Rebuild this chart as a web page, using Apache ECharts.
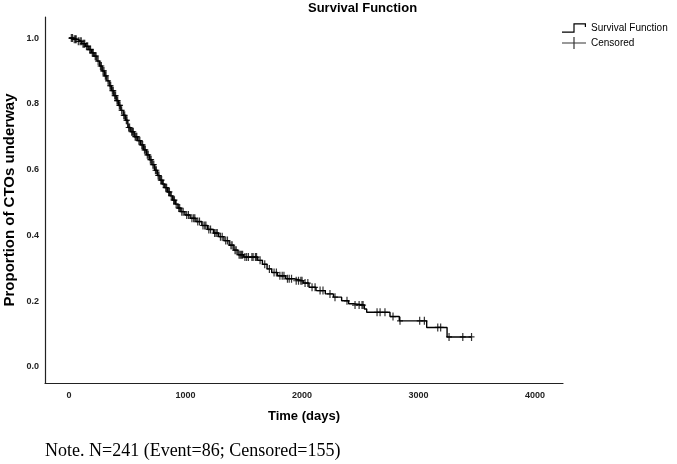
<!DOCTYPE html>
<html>
<head>
<meta charset="utf-8">
<title>Survival Function</title>
<script src="https://cdn.jsdelivr.net/npm/echarts@6/dist/echarts.min.js"></script>
<style>
  html, body { margin: 0; padding: 0; background: #fff; }
  #chart { width: 677px; height: 464px; }
</style>
</head>
<body>
<div id="chart"></div>
<script>
// Kaplan-Meier: event times (days) and the survival right after each event
const eventTimes = [40, 75, 110, 140, 170, 195, 215, 240, 262, 285, 305, 325, 345, 365, 385, 405, 425, 445, 465, 485,
  505, 530, 560, 590, 615, 640, 665, 690, 712, 735, 758, 780, 800, 822, 845, 868, 890, 912, 935, 960,
  995, 1040, 1090, 1140, 1190, 1240, 1285, 1330, 1375, 1415, 1450, 1500, 1620, 1660, 1700, 1740, 1790,
  1860, 1930, 2010, 2060, 2120, 2200, 2270, 2340, 2400, 2440, 2535, 2555, 2755, 2835, 3070, 3245]
const survival = [0.996, 0.99, 0.983, 0.975, 0.965, 0.955, 0.945, 0.93, 0.915, 0.9, 0.885, 0.87, 0.855, 0.84, 0.825, 0.81, 0.795, 0.78, 0.765, 0.75,
  0.728, 0.715, 0.7, 0.688, 0.675, 0.66, 0.645, 0.63, 0.615, 0.598, 0.582, 0.568, 0.556, 0.545, 0.532, 0.52, 0.507, 0.495, 0.483, 0.472,
  0.462, 0.452, 0.442, 0.43, 0.418, 0.407, 0.396, 0.384, 0.37, 0.355, 0.341, 0.334, 0.324, 0.312, 0.298, 0.287, 0.277,
  0.268, 0.262, 0.255, 0.242, 0.232, 0.222, 0.212, 0.201, 0.192, 0.188, 0.176, 0.166, 0.153, 0.14, 0.12, 0.091]
// censored cases (days)
const censorTimes = [20, 30, 45, 55, 62, 80, 95, 105, 120, 128, 135, 150, 160, 178, 185, 200, 208, 225, 232, 250,
  270, 278, 292, 300, 312, 318, 335, 352, 358, 372, 380, 392, 400, 412, 418, 432, 438, 452, 470, 478, 492, 498,
  512, 520, 538, 545, 552, 568, 575, 582, 600, 608, 625, 632, 648, 655, 672, 680, 698, 705, 720, 728, 742, 750,
  765, 772, 788, 795, 810, 830, 838, 855, 862, 878, 898, 905, 920, 942, 950, 968, 980, 1010,
  1025, 1055, 1070, 1080, 1105, 1120, 1150, 1165, 1175, 1200, 1215, 1250, 1262, 1272, 1300, 1315, 1345, 1360,
  1390, 1400, 1425, 1435, 1460, 1470, 1480, 1490, 1510, 1525, 1540, 1570, 1580, 1600,
  1610, 1640, 1680, 1720, 1760, 1780, 1810, 1830, 1845, 1875, 1890, 1910, 1950, 1970, 1990,
  2000, 2026, 2050, 2086, 2112, 2155, 2180, 2240, 2283, 2386, 2455, 2490, 2515, 2524, 2644, 2670, 2712,
  2781, 2841, 3010, 3050, 3165, 3190, 3262, 3380, 3455]
const xTicks = [0, 1000, 2000, 3000, 4000]
const yTicks = [0, 0.2, 0.4, 0.6, 0.8, 1.0]

const font = 'Liberation Sans, Arial, sans-serif'
const stepIcon = 'path://M0,0H0.01V0.01H0Z M0,9.6H11.4V1.2H24V5H22.8V2.4H12.6V10.8H0Z M24,12H23.99V11.99H24Z'
const plusIcon = 'path://M11.4,0H12.6V12H11.4Z M0,5.4H24V6.6H0Z'
const plusMark = 'path://M2.4,0H3.6V8H2.4Z M0,3.4H6V4.6H0Z'

// survival level of the KM curve at time t
const survAt = (t) => {
  let s = 1
  for (let i = 0; i < eventTimes.length; i++) {
    if (eventTimes[i] <= t) s = survival[i]
    else break
  }
  return s
}
const lastTime = censorTimes[censorTimes.length - 1]
const curve = [[0, 1]].concat(eventTimes.map((t, i) => [t, survival[i]]))
curve.push([lastTime, survival[survival.length - 1]])
const marks = censorTimes.map(t => [t, survAt(t)])

const myChart = echarts.init(document.getElementById('chart'))
myChart.setOption({
  animation: false,
  textStyle: { fontFamily: font },
  title: {
    text: 'Survival Function',
    left: 308,
    top: 2,
    padding: 0,
    textStyle: { fontSize: 13, fontWeight: 'bold', color: '#000', fontFamily: font }
  },
  legend: {
    orient: 'vertical',
    left: 562,
    top: 22,
    padding: 0,
    itemWidth: 24,
    itemHeight: 12,
    itemGap: 3,
    textStyle: { fontSize: 10, color: '#000', fontFamily: font },
    data: [
      { name: 'Survival Function', icon: stepIcon },
      { name: 'Censored', icon: plusIcon }
    ]
  },
  grid: { left: 45, right: 114, top: 17, bottom: 81, outerBoundsMode: 'none' },
  xAxis: {
    type: 'value',
    min: -206,
    max: 4240,
    name: 'Time (days)',
    nameLocation: 'middle',
    nameGap: 27,
    nameTextStyle: { fontSize: 13, fontWeight: 'bold', color: '#000' },
    axisLine: { onZero: false, lineStyle: { color: '#222', width: 1.2 } },
    axisTick: { show: false },
    splitLine: { show: false },
    axisLabel: {
      customValues: xTicks,
      margin: 8,
      fontSize: 9,
      fontWeight: 'bold',
      color: '#222',
      formatter: v => String(v)
    }
  },
  yAxis: {
    type: 'value',
    min: -0.049,
    max: 1.064,
    name: 'Proportion of CTOs underway',
    nameLocation: 'middle',
    nameMoveOverlap: false,
    nameGap: 28,
    nameTextStyle: { fontSize: 15, fontWeight: 'bold', color: '#000' },
    axisLine: { show: true, onZero: false, lineStyle: { color: '#222', width: 1.2 } },
    axisTick: { show: false },
    splitLine: { show: false },
    axisLabel: {
      customValues: yTicks,
      margin: 6,
      fontSize: 9,
      fontWeight: 'bold',
      color: '#222',
      formatter: v => v.toFixed(1)
    }
  },
  series: [
    {
      name: 'Survival Function',
      type: 'line',
      step: 'end',
      showSymbol: false,
      symbol: 'none',
      color: '#000',
      lineStyle: { color: '#000', width: 1.4 },
      data: curve
    },
    {
      name: 'Censored',
      type: 'scatter',
      symbol: plusMark,
      symbolSize: [6, 8],
      color: '#000',
      itemStyle: { color: '#000' },
      data: marks
    }
  ],
  graphic: [
    {
      type: 'text',
      left: 45,
      top: 442,
      style: {
        text: 'Note. N=241 (Event=86; Censored=155)',
        font: '18px "Liberation Serif", "Times New Roman", serif',
        fill: '#000'
      }
    }
  ]
})
</script>
</body>
</html>
